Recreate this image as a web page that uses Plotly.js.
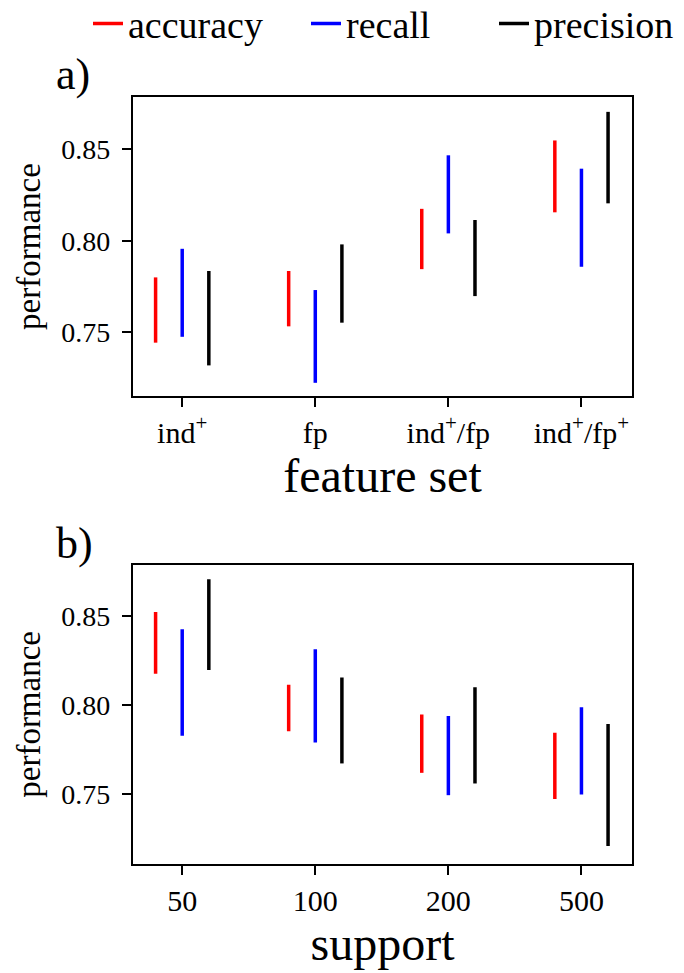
<!DOCTYPE html>
<html>
<head>
<meta charset="utf-8">
<script src="https://cdn.plot.ly/plotly-3.0.1.min.js"></script>
<style>html,body{margin:0;padding:0;background:#fff;}#chart{width:684px;height:973px;}</style>
</head>
<body>
<div id="chart"></div>
<script>
// ---- data ----
const featureSets = ['ind<sup>+</sup>', 'fp', 'ind<sup>+</sup>/fp', 'ind<sup>+</sup>/fp<sup>+</sup>'];
const supports = ['50', '100', '200', '500'];
const seriesNames = ['accuracy', 'recall', 'precision'];
const yTicks = [0.75, 0.80, 0.85];

// panel a) feature set
const accA_lo = [0.7444, 0.7533, 0.7845, 0.8155];
const accA_hi = [0.7800, 0.7835, 0.8174, 0.8547];
const recA_lo = [0.7476, 0.7225, 0.8040, 0.7858];
const recA_hi = [0.7956, 0.7731, 0.8466, 0.8393];
const preA_lo = [0.7320, 0.7553, 0.7698, 0.8204];
const preA_hi = [0.7835, 0.7980, 0.8113, 0.8703];

// panel b) support
const accB_lo = [0.8176, 0.7853, 0.7618, 0.7470];
const accB_hi = [0.8524, 0.8114, 0.7947, 0.7844];
const recB_lo = [0.7827, 0.7789, 0.7492, 0.7496];
const recB_hi = [0.8428, 0.8314, 0.7939, 0.7988];
const preB_lo = [0.8197, 0.7671, 0.7558, 0.7206];
const preB_hi = [0.8709, 0.8156, 0.8101, 0.7893];

// ---- styling ----
const colors = ['#ff0000', '#0000ff', '#000000'];
const offsets = [-0.2, 0, 0.2];
const legendIds = ['legend', 'legend2', 'legend3'];
const legendX = [88, 306, 494];
const FONT = 'Liberation Serif, Times New Roman, serif';

function segs(lo, hi, off) {
  const x = [], y = [];
  lo.forEach((l, i) => { x.push(i + off, i + off, null); y.push(l, hi[i], null); });
  return {x, y};
}

const panelA = [[accA_lo, accA_hi], [recA_lo, recA_hi], [preA_lo, preA_hi]];
const panelB = [[accB_lo, accB_hi], [recB_lo, recB_hi], [preB_lo, preB_hi]];

const traces = [];
panelA.forEach((p, k) => {
  const s = segs(p[0], p[1], offsets[k]);
  traces.push({type: 'scatter', mode: 'lines', x: s.x, y: s.y, xaxis: 'x', yaxis: 'y',
    name: seriesNames[k], legend: legendIds[k], line: {color: colors[k], width: 3.5},
    connectgaps: false, showlegend: true, hoverinfo: 'skip'});
});
panelB.forEach((p, k) => {
  const s = segs(p[0], p[1], offsets[k]);
  traces.push({type: 'scatter', mode: 'lines', x: s.x, y: s.y, xaxis: 'x2', yaxis: 'y2',
    name: seriesNames[k], line: {color: colors[k], width: 3.5},
    connectgaps: false, showlegend: false, hoverinfo: 'skip'});
});

const idx = featureSets.map((_, i) => i);
const axBase = {showline: true, linewidth: 2, linecolor: '#000', mirror: true, ticks: 'outside',
  ticklen: 9, tickwidth: 2, tickcolor: '#000', showgrid: false, zeroline: false};
const xAx = Object.assign({}, axBase, {tickfont: {family: FONT, size: 30, color: '#000'}});
const yAx = Object.assign({}, axBase, {tickfont: {family: FONT, size: 28, color: '#000'}, ticklabelstandoff: 6});

function legendAt(px) {
  return {orientation: 'h', x: px / 684, xanchor: 'left', y: 1.008, yanchor: 'top',
    font: {family: FONT, size: 38, color: '#000'}, bgcolor: 'rgba(0,0,0,0)'};
}

const layout = {
  width: 684, height: 973,
  margin: {l: 0, r: 0, t: 0, b: 0, autoexpand: false},
  paper_bgcolor: '#fff', plot_bgcolor: '#fff',
  font: {family: FONT, color: '#000'},
  showlegend: true,
  legend: legendAt(legendX[0]),
  legend2: legendAt(legendX[1]),
  legend3: legendAt(legendX[2]),
  xaxis: Object.assign({}, xAx, {domain: [0.1944, 0.924], anchor: 'y', range: [-0.37, 3.38],
    tickvals: idx, ticktext: featureSets,
    title: {text: 'feature set', font: {family: FONT, size: 48, color: '#000'}, standoff: 4}}),
  yaxis: Object.assign({}, yAx, {domain: [0.593, 0.9003], anchor: 'x', range: [0.7153, 0.8784],
    tickvals: yTicks, tickformat: '.2f',
    title: {text: 'performance', font: {family: FONT, size: 33, color: '#000'}, standoff: 11}}),
  xaxis2: Object.assign({}, xAx, {domain: [0.1944, 0.924], anchor: 'y2', range: [-0.37, 3.38],
    tickvals: idx, ticktext: supports,
    title: {text: 'support', font: {family: FONT, size: 48, color: '#000'}, standoff: 4}}),
  yaxis2: Object.assign({}, yAx, {domain: [0.112, 0.4196], anchor: 'x2', range: [0.7104, 0.8791],
    tickvals: yTicks, tickformat: '.2f',
    title: {text: 'performance', font: {family: FONT, size: 33, color: '#000'}, standoff: 11}}),
  annotations: [
    {text: 'a)', xref: 'paper', yref: 'paper', x: 54 / 684, y: (973 - 75) / 973, xanchor: 'left', yanchor: 'middle',
      showarrow: false, font: {family: FONT, size: 44, color: '#000'}},
    {text: 'b)', xref: 'paper', yref: 'paper', x: 54 / 684, y: (973 - 543) / 973, xanchor: 'left', yanchor: 'middle',
      showarrow: false, font: {family: FONT, size: 44, color: '#000'}}
  ]
};

Plotly.newPlot('chart', traces, layout, {staticPlot: true, displayModeBar: false});
</script>
</body>
</html>
